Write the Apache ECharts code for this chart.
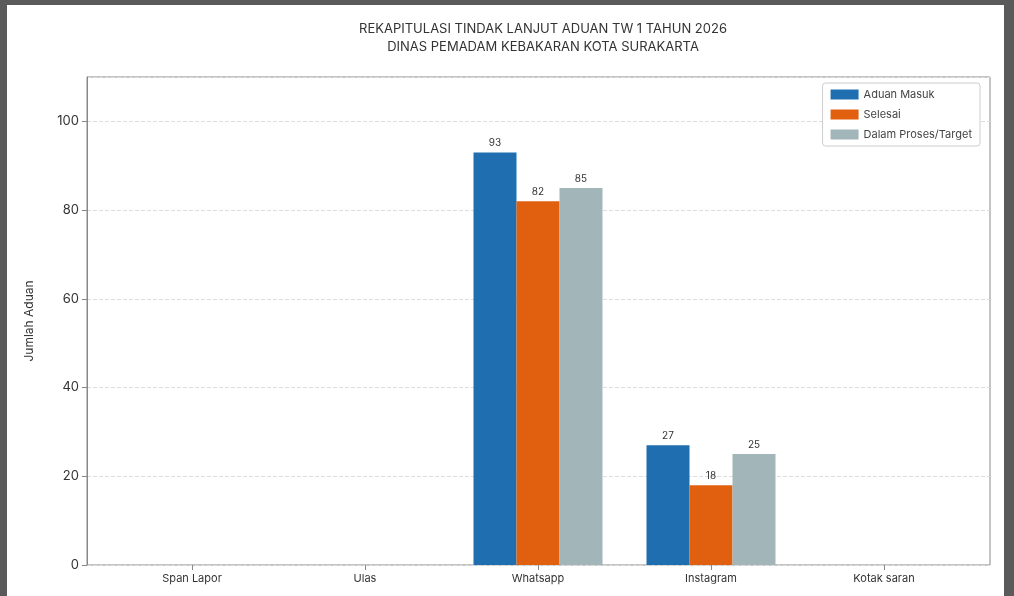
<!DOCTYPE html>
<html><head><meta charset="utf-8">
<script src="https://cdn.jsdelivr.net/npm/echarts@6/dist/echarts.min.js"></script>
<style>
html,body{margin:0;padding:0;background:#5a5a5a;width:1014px;height:596px;overflow:hidden}
#paper{position:absolute;left:7px;top:5px;width:997px;height:591px;background:#fff}
#c{position:absolute;left:0;top:0;width:1014px;height:596px}
</style></head>
<body><div id="paper"></div><div id="c"></div>
<script>
const categories = ['Span Lapor','Ulas','Whatsapp','Instagram','Kotak saran'];
const aduanMasuk = [null,null,93,27,null];
const selesai = [null,null,82,18,null];
const dalamProses = [null,null,85,25,null];
const seriesNames = ['Aduan Masuk','Selesai','Dalam Proses/Target'];
const colors = ['#1f6eb0','#e0600f','#a2b5b8'];
const font = 'Inter, "Noto Sans", sans-serif';
const chart = echarts.init(document.getElementById('c'));
const mk = (name, data, i) => ({
  name, type:'bar', data, barWidth:43, barGap:'0%', xAxisIndex:1, yAxisIndex:1,
  itemStyle:{color:colors[i]},
  label:{show:true, position:'top', color:'#333', fontSize:10, fontFamily:font, distance:4}
});
chart.setOption({
  backgroundColor:'transparent',
  animation:false,
  title:{text:'REKAPITULASI TINDAK LANJUT ADUAN TW 1 TAHUN 2026\nDINAS PEMADAM KEBAKARAN KOTA SURAKARTA',
    left:538, textAlign:'center', top:15,
    textStyle:{fontSize:13, fontWeight:'normal', color:'#333', fontFamily:font, lineHeight:18}},
  legend:{right:34, top:83, orient:'vertical', itemWidth:28, itemHeight:10, itemGap:9,
    backgroundColor:'#fff', borderColor:'#ccc', borderWidth:1, borderRadius:3, padding:[6,8,6,8],
    textStyle:{fontSize:11, color:'#444', fontFamily:font}, icon:'rect', data:seriesNames},
  grid:[
    {left:87, right:24, top:77, bottom:31, show:true, borderColor:'#888', borderWidth:1},
    {left:105.5, right:43.5, top:77, bottom:31}
  ],
  xAxis:[
    {type:'value', gridIndex:0, show:false, min:0, max:1},
    {type:'category', gridIndex:1, data:categories,
    axisLine:{show:false}, axisTick:{show:true, alignWithLabel:true, lineStyle:{color:'#888'}},
    axisLabel:{fontSize:11, color:'#333', fontFamily:font, margin:8}}
  ],
  yAxis:[
    {type:'value', gridIndex:0, min:0, max:110, interval:20, name:'Jumlah Aduan', nameLocation:'middle', nameGap:52,
    nameTextStyle:{fontSize:12, color:'#333', fontFamily:font},
    axisLine:{show:true, lineStyle:{color:'#888'}}, axisTick:{show:true, lineStyle:{color:'#888'}},
    axisLabel:{fontSize:13, color:'#333', fontFamily:font, showMaxLabel:false},
    splitLine:{lineStyle:{type:'dashed', color:'#ddd'}}},
    {type:'value', gridIndex:1, min:0, max:110, interval:20, show:false, splitLine:{show:false}}
  ],
  series:[mk(seriesNames[0],aduanMasuk,0), mk(seriesNames[1],selesai,1), mk(seriesNames[2],dalamProses,2)]
});
</script></body></html>
